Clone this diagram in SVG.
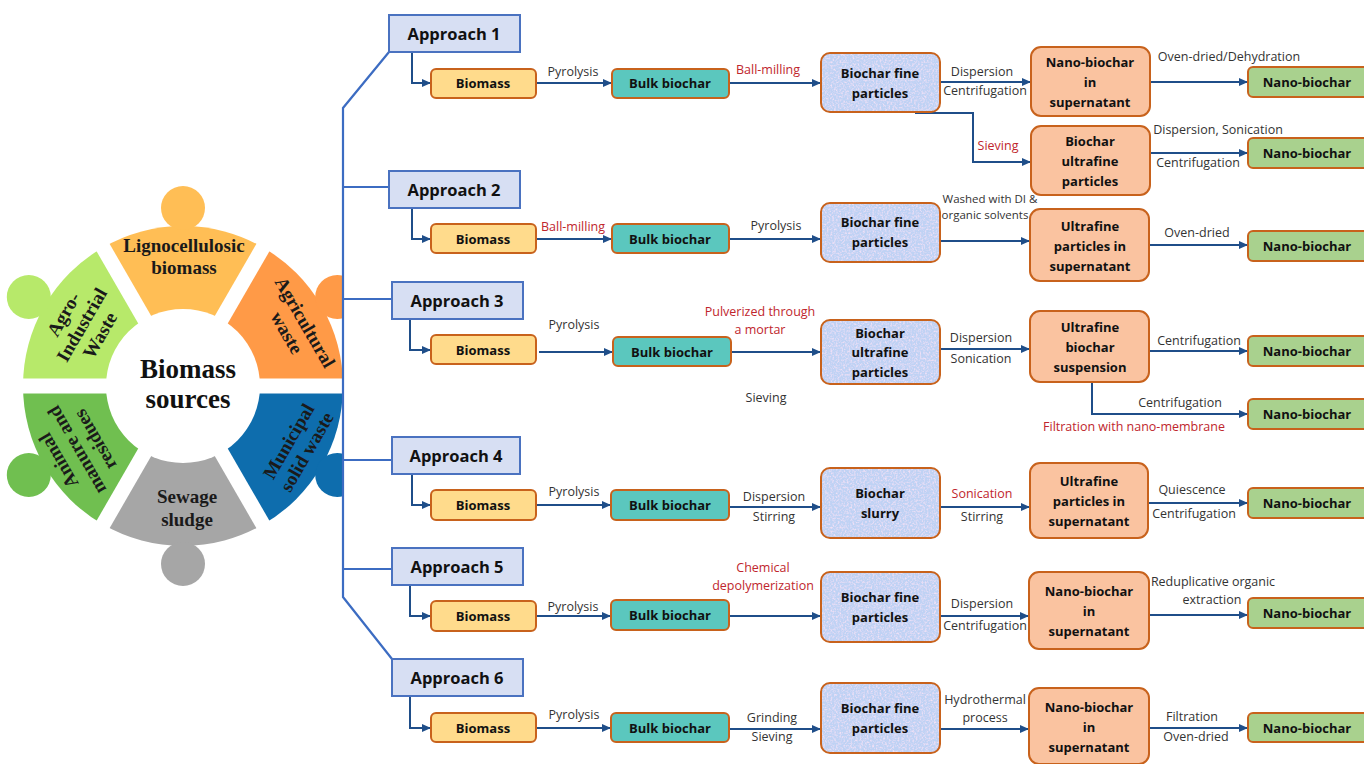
<svg xmlns="http://www.w3.org/2000/svg" width="1364" height="764" viewBox="0 0 1364 764">
<style>
.lbl{font-family:'Open Sans','Liberation Sans',sans-serif;font-size:12.5px;fill:#333;text-anchor:middle}
.sm{font-size:11.5px}
.red{fill:#C0262D}
.bx{font-family:'Open Sans','Liberation Sans',sans-serif;font-weight:700;font-size:13px;fill:#111;text-anchor:middle}
.ap{font-family:'Open Sans','Liberation Sans',sans-serif;font-weight:700;font-size:16.5px;fill:#111;text-anchor:middle}
.apbox{fill:#D7DFF3;stroke:#4A72C0;stroke-width:2}
.yel{fill:#FFDB8C;stroke:#C8621C;stroke-width:2}
.teal{fill:#5BC7BE;stroke:#C8621C;stroke-width:2}
.bfill{fill:#BFD2F4;filter:url(#speckle)}
.bstroke{fill:none;stroke:#C8621C;stroke-width:2}
.peach{fill:#FAC3A0;stroke:#C8621C;stroke-width:2}
.grn{fill:#A9D18E;stroke:#C8621C;stroke-width:2}
.con{fill:none;stroke:#1F4E89;stroke-width:2;marker-end:url(#ah)}
.br{fill:none;stroke:#3C6CC2;stroke-width:2.2}
.wl{font-family:'Liberation Serif',serif;font-weight:700;font-size:19px;fill:#1a1a1a;text-anchor:middle}
</style>
<defs>
<marker id="ah" markerUnits="userSpaceOnUse" markerWidth="9" markerHeight="8" refX="9" refY="4" orient="auto">
<path d="M0,0 L9,4 L0,8 Z" fill="#1F4E89"/>
</marker>
<filter id="speckle" x="0" y="0" width="100%" height="100%">
<feTurbulence type="fractalNoise" baseFrequency="0.55" numOctaves="2" seed="4" result="n"/>
<feColorMatrix in="n" type="matrix" values="0 0 0 0 0.90  0 0 0 0 0.76  0 0 0 0 0.92  2.4 0 0 0 -1.05" result="pink"/>
<feComposite in="pink" in2="SourceGraphic" operator="in" result="pk"/>
<feMerge><feMergeNode in="SourceGraphic"/><feMergeNode in="pk"/></feMerge>
</filter>
<clipPath id="wclip"><rect x="0" y="150" width="343" height="460"/></clipPath>
</defs>
<rect width="1364" height="764" fill="#fff"/>

<g id="wheel" clip-path="url(#wclip)">
<g id="lignocellulosic" fill="#FFBE55">
<path d="M183,386 L103,247.44 A160,160 0 0 1 263,247.44 Z"/><circle cx="183" cy="208" r="22"/>
</g>
<g id="agricultural" fill="#FF9A47">
<path d="M183,386 L263,247.44 A160,160 0 0 1 343,386 Z"/><circle cx="337.2" cy="297" r="22"/>
</g>
<g id="municipal" fill="#0E6DAD">
<path d="M183,386 L343,386 A160,160 0 0 1 263,524.56 Z"/><circle cx="337.2" cy="475" r="22"/>
</g>
<g id="sewage" fill="#A6A6A6">
<path d="M183,386 L263,524.56 A160,160 0 0 1 103,524.56 Z"/><circle cx="183" cy="564" r="22"/>
</g>
<g id="animal" fill="#70BF50">
<path d="M183,386 L103,524.56 A160,160 0 0 1 23,386 Z"/><circle cx="28.8" cy="475" r="22"/>
</g>
<g id="agro" fill="#B7E96A">
<path d="M183,386 L23,386 A160,160 0 0 1 103,247.44 Z"/><circle cx="28.8" cy="297" r="22"/>
</g>
<g stroke="#fff" stroke-width="15">
<line x1="-17" y1="386" x2="383" y2="386"/>
<line x1="83" y1="212.8" x2="283" y2="559.2"/>
<line x1="283" y1="212.8" x2="83" y2="559.2"/>
</g>
<circle cx="183" cy="386" r="77" fill="#fff"/>
<text class="wl" x="184" y="252">Lignocellulosic</text>
<text class="wl" x="184" y="274">biomass</text>
<text class="wl" x="187" y="503">Sewage</text>
<text class="wl" x="187" y="526">sludge</text>
<g transform="translate(82,325) rotate(-60)">
<text class="wl" x="0" y="-15">Agro-</text>
<text class="wl" x="0" y="6">Industrial</text>
<text class="wl" x="0" y="27">Waste</text>
</g>
<g transform="translate(296,327.5) rotate(60)">
<text class="wl" x="0" y="-4">Agricultural</text>
<text class="wl" x="0" y="17">waste</text>
</g>
<g transform="translate(297.5,446.5) rotate(-60)">
<text class="wl" x="0" y="-4">Municipal</text>
<text class="wl" x="0" y="17">solid waste</text>
</g>
<g transform="translate(77,450) rotate(-120)">
<text class="wl" x="0" y="-15">Animal</text>
<text class="wl" x="0" y="6">manure and</text>
<text class="wl" x="0" y="27">residues</text>
</g>
<text x="188" y="378" font-family="'Liberation Serif',serif" font-weight="700" font-size="27" fill="#111" text-anchor="middle">Biomass</text>
<text x="188" y="408" font-family="'Liberation Serif',serif" font-weight="700" font-size="27" fill="#111" text-anchor="middle">sources</text>
</g>

<g id="connectors">
<path class="br" d="M389,52 L343,108 L343,597 L392,659"/>
<path class="br" d="M343,187 H389 M343,299 H392 M343,460 H392 M343,569 H392"/>
<path class="con" d="M412,52 V83 H431"/>
<path class="con" d="M412,208 V239 H431"/>
<path class="con" d="M410,319 V350 H431"/>
<path class="con" d="M412,474 V505 H431"/>
<path class="con" d="M410,585 V616 H431"/>
<path class="con" d="M410,696 V728 H431"/>
<path class="con" d="M536,83 H612"/>
<path class="con" d="M729,83 H821"/>
<path class="con" d="M940,82 H1031"/>
<path class="con" d="M1150,82 H1248"/>
<path class="con" d="M915,113 H973 V162 H1031"/>
<path class="con" d="M1150,153 H1248"/>
<path class="con" d="M536,239 H612"/>
<path class="con" d="M729,239 H821"/>
<path class="con" d="M940,241 H1030"/>
<path class="con" d="M1150,245 H1248"/>
<path class="con" d="M539,352 H613"/>
<path class="con" d="M731,352 H821"/>
<path class="con" d="M940,349 H1030"/>
<path class="con" d="M1149,351 H1248"/>
<path class="con" d="M1092,382 V414 H1248"/>
<path class="con" d="M536,505 H611"/>
<path class="con" d="M729,507 H821"/>
<path class="con" d="M940,507 H1030"/>
<path class="con" d="M1148,503 H1248"/>
<path class="con" d="M536,616 H611"/>
<path class="con" d="M729,616 H821"/>
<path class="con" d="M940,616 H1029"/>
<path class="con" d="M1149,615 H1248"/>
<path class="con" d="M536,728 H611"/>
<path class="con" d="M729,729 H821"/>
<path class="con" d="M940,729 H1029"/>
<path class="con" d="M1149,728 H1248"/>
</g>

<g id="labels">
<text class="lbl" x="573" y="76">Pyrolysis</text>
<text class="lbl red" x="768" y="74">Ball-milling</text>
<text class="lbl" x="982" y="76">Dispersion</text>
<text class="lbl" x="985" y="95">Centrifugation</text>
<text class="lbl" x="1229" y="61">Oven-dried/Dehydration</text>
<text class="lbl red" x="998" y="150">Sieving</text>
<text class="lbl" x="1218" y="134">Dispersion, Sonication</text>
<text class="lbl" x="1198" y="167">Centrifugation</text>
<text class="lbl red" x="573" y="231">Ball-milling</text>
<text class="lbl" x="776" y="230">Pyrolysis</text>
<text class="lbl sm" x="990" y="203">Washed with DI &amp;</text>
<text class="lbl sm" x="985" y="219">organic solvents</text>
<text class="lbl" x="1197" y="237">Oven-dried</text>
<text class="lbl" x="574" y="329">Pyrolysis</text>
<text class="lbl red" x="760" y="316">Pulverized through</text>
<text class="lbl red" x="760" y="334">a mortar</text>
<text class="lbl" x="766" y="402">Sieving</text>
<text class="lbl" x="981" y="342">Dispersion</text>
<text class="lbl" x="981" y="363">Sonication</text>
<text class="lbl" x="1199" y="345">Centrifugation</text>
<text class="lbl" x="1180" y="407">Centrifugation</text>
<text class="lbl red" x="1134" y="431">Filtration with nano-membrane</text>
<text class="lbl" x="574" y="496">Pyrolysis</text>
<text class="lbl" x="774" y="501">Dispersion</text>
<text class="lbl" x="774" y="521">Stirring</text>
<text class="lbl red" x="982" y="498">Sonication</text>
<text class="lbl" x="982" y="521">Stirring</text>
<text class="lbl" x="1192" y="494">Quiescence</text>
<text class="lbl" x="1194" y="518">Centrifugation</text>
<text class="lbl" x="573" y="611">Pyrolysis</text>
<text class="lbl red" x="763" y="572">Chemical</text>
<text class="lbl red" x="763" y="590">depolymerization</text>
<text class="lbl" x="982" y="608">Dispersion</text>
<text class="lbl" x="985" y="630">Centrifugation</text>
<text class="lbl" x="1213" y="586">Reduplicative organic</text>
<text class="lbl" x="1212" y="604">extraction</text>
<text class="lbl" x="574" y="719">Pyrolysis</text>
<text class="lbl" x="772" y="722">Grinding</text>
<text class="lbl" x="772" y="741">Sieving</text>
<text class="lbl" x="985" y="704">Hydrothermal</text>
<text class="lbl" x="985" y="722">process</text>
<text class="lbl" x="1192" y="721">Filtration</text>
<text class="lbl" x="1196" y="741">Oven-dried</text>
</g>

<g id="approach1"><rect class="apbox" x="389" y="15" width="131" height="37"/><text class="ap" x="454" y="40">Approach 1</text></g>
<g id="approach2"><rect class="apbox" x="389" y="171" width="131" height="37"/><text class="ap" x="454" y="196">Approach 2</text></g>
<g id="approach3"><rect class="apbox" x="392" y="282" width="131" height="37"/><text class="ap" x="457" y="307">Approach 3</text></g>
<g id="approach4"><rect class="apbox" x="392" y="437" width="128" height="37"/><text class="ap" x="456" y="462">Approach 4</text></g>
<g id="approach5"><rect class="apbox" x="392" y="548" width="131" height="37"/><text class="ap" x="457" y="573">Approach 5</text></g>
<g id="approach6"><rect class="apbox" x="392" y="659" width="131" height="37"/><text class="ap" x="457" y="684">Approach 6</text></g>

<g id="r1-biomass"><rect class="yel" x="431" y="69" width="105" height="29" rx="5"/><text class="bx" x="483" y="88">Biomass</text></g>
<g id="r1-bulk"><rect class="teal" x="612" y="69" width="117" height="29" rx="5"/><text class="bx" x="670" y="88">Bulk biochar</text></g>
<g id="r1-fine"><rect class="bfill" x="821" y="53" width="119" height="59" rx="9"/><rect class="bstroke" x="821" y="53" width="119" height="59" rx="9"/><text class="bx" x="880" y="78">Biochar fine</text><text class="bx" x="880" y="98">particles</text></g>
<g id="r1-nanosup"><rect class="peach" x="1031" y="47" width="119" height="69" rx="10"/><text class="bx" x="1090" y="67">Nano-biochar</text><text class="bx" x="1090" y="87">in</text><text class="bx" x="1090" y="107">supernatant</text></g>
<g id="r1-nano"><rect class="grn" x="1248" y="67" width="122" height="30" rx="5"/><text class="bx" x="1307" y="87">Nano-biochar</text></g>
<g id="r1-ultrafine"><rect class="peach" x="1031" y="126" width="119" height="69" rx="10"/><text class="bx" x="1090" y="146">Biochar</text><text class="bx" x="1090" y="166">ultrafine</text><text class="bx" x="1090" y="186">particles</text></g>
<g id="r1-nano2"><rect class="grn" x="1248" y="138" width="122" height="30" rx="5"/><text class="bx" x="1307" y="158">Nano-biochar</text></g>

<g id="r2-biomass"><rect class="yel" x="431" y="224" width="105" height="29" rx="5"/><text class="bx" x="483" y="243.5">Biomass</text></g>
<g id="r2-bulk"><rect class="teal" x="612" y="224" width="117" height="29" rx="5"/><text class="bx" x="670" y="243.5">Bulk biochar</text></g>
<g id="r2-fine"><rect class="bfill" x="821" y="203" width="119" height="59" rx="9"/><rect class="bstroke" x="821" y="203" width="119" height="59" rx="9"/><text class="bx" x="880" y="227">Biochar fine</text><text class="bx" x="880" y="247">particles</text></g>
<g id="r2-ultrasup"><rect class="peach" x="1030" y="209" width="119" height="72" rx="10"/><text class="bx" x="1090" y="231">Ultrafine</text><text class="bx" x="1090" y="251">particles in</text><text class="bx" x="1090" y="271">supernatant</text></g>
<g id="r2-nano"><rect class="grn" x="1248" y="231" width="122" height="30" rx="5"/><text class="bx" x="1307" y="251">Nano-biochar</text></g>

<g id="r3-biomass"><rect class="yel" x="431" y="335" width="105" height="29" rx="5"/><text class="bx" x="483" y="354.5">Biomass</text></g>
<g id="r3-bulk"><rect class="teal" x="613" y="337" width="118" height="29" rx="5"/><text class="bx" x="672" y="356.5">Bulk biochar</text></g>
<g id="r3-ultrafine"><rect class="bfill" x="821" y="320" width="119" height="64" rx="9"/><rect class="bstroke" x="821" y="320" width="119" height="64" rx="9"/><text class="bx" x="880" y="338">Biochar</text><text class="bx" x="880" y="357">ultrafine</text><text class="bx" x="880" y="377">particles</text></g>
<g id="r3-suspension"><rect class="peach" x="1030" y="311" width="119" height="71" rx="10"/><text class="bx" x="1090" y="332">Ultrafine</text><text class="bx" x="1090" y="352">biochar</text><text class="bx" x="1090" y="372">suspension</text></g>
<g id="r3-nano"><rect class="grn" x="1248" y="336" width="122" height="30" rx="5"/><text class="bx" x="1307" y="356">Nano-biochar</text></g>
<g id="r3-nano2"><rect class="grn" x="1248" y="399" width="122" height="30" rx="5"/><text class="bx" x="1307" y="419">Nano-biochar</text></g>

<g id="r4-biomass"><rect class="yel" x="431" y="490" width="105" height="30" rx="5"/><text class="bx" x="483" y="510">Biomass</text></g>
<g id="r4-bulk"><rect class="teal" x="611" y="490" width="118" height="30" rx="5"/><text class="bx" x="670" y="510">Bulk biochar</text></g>
<g id="r4-slurry"><rect class="bfill" x="821" y="468" width="119" height="70" rx="9"/><rect class="bstroke" x="821" y="468" width="119" height="70" rx="9"/><text class="bx" x="880" y="498">Biochar</text><text class="bx" x="880" y="518">slurry</text></g>
<g id="r4-ultrasup"><rect class="peach" x="1030" y="463" width="118" height="75" rx="10"/><text class="bx" x="1089" y="486">Ultrafine</text><text class="bx" x="1089" y="506">particles in</text><text class="bx" x="1089" y="526">supernatant</text></g>
<g id="r4-nano"><rect class="grn" x="1248" y="488" width="122" height="30" rx="5"/><text class="bx" x="1307" y="508">Nano-biochar</text></g>

<g id="r5-biomass"><rect class="yel" x="431" y="601" width="105" height="30" rx="5"/><text class="bx" x="483" y="621">Biomass</text></g>
<g id="r5-bulk"><rect class="teal" x="611" y="600" width="118" height="30" rx="5"/><text class="bx" x="670" y="620">Bulk biochar</text></g>
<g id="r5-fine"><rect class="bfill" x="821" y="572" width="119" height="70" rx="9"/><rect class="bstroke" x="821" y="572" width="119" height="70" rx="9"/><text class="bx" x="880" y="602">Biochar fine</text><text class="bx" x="880" y="622">particles</text></g>
<g id="r5-nanosup"><rect class="peach" x="1029" y="572" width="120" height="77" rx="10"/><text class="bx" x="1089" y="596">Nano-biochar</text><text class="bx" x="1089" y="616">in</text><text class="bx" x="1089" y="636">supernatant</text></g>
<g id="r5-nano"><rect class="grn" x="1248" y="598" width="122" height="30" rx="5"/><text class="bx" x="1307" y="618">Nano-biochar</text></g>

<g id="r6-biomass"><rect class="yel" x="431" y="713" width="105" height="29" rx="5"/><text class="bx" x="483" y="732.5">Biomass</text></g>
<g id="r6-bulk"><rect class="teal" x="611" y="713" width="118" height="29" rx="5"/><text class="bx" x="670" y="732.5">Bulk biochar</text></g>
<g id="r6-fine"><rect class="bfill" x="821" y="683" width="119" height="70" rx="9"/><rect class="bstroke" x="821" y="683" width="119" height="70" rx="9"/><text class="bx" x="880" y="713">Biochar fine</text><text class="bx" x="880" y="733">particles</text></g>
<g id="r6-nanosup"><rect class="peach" x="1029" y="688" width="120" height="76" rx="10"/><text class="bx" x="1089" y="712">Nano-biochar</text><text class="bx" x="1089" y="732">in</text><text class="bx" x="1089" y="752">supernatant</text></g>
<g id="r6-nano"><rect class="grn" x="1248" y="713" width="122" height="29" rx="5"/><text class="bx" x="1307" y="732.5">Nano-biochar</text></g>
</svg>
